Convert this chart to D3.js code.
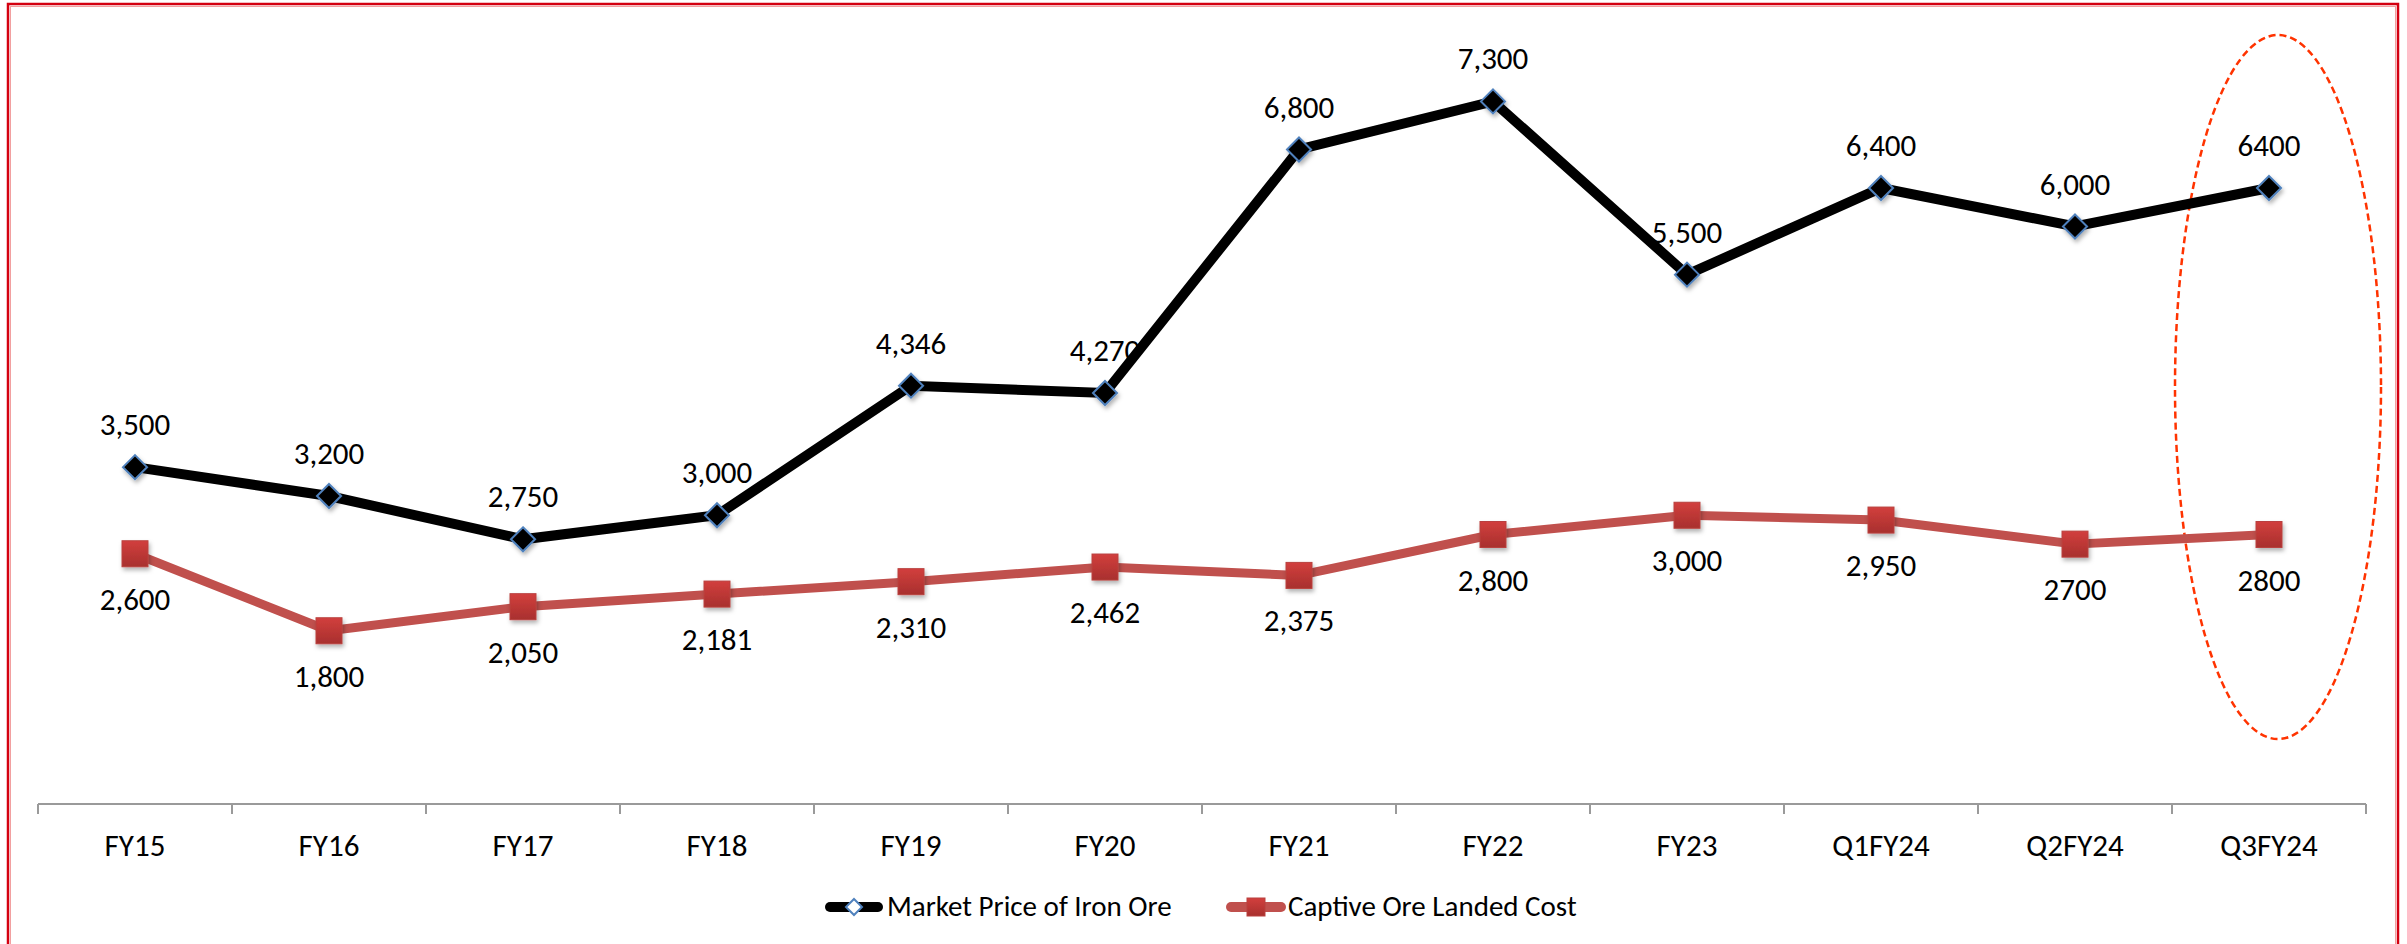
<!DOCTYPE html>
<html>
<head>
<meta charset="utf-8">
<script src="https://cdn.jsdelivr.net/npm/d3@7"></script>
<style>
  html, body { margin: 0; padding: 0; background: #ffffff; }
  svg { display: block; }
  text { font-family: Carlito, Calibri, Lato, sans-serif; fill: #000; }
</style>
</head>
<body>
<svg id="chart" width="2407" height="944"></svg>
<script>
// ---- data ----
const categories = ["FY15","FY16","FY17","FY18","FY19","FY20","FY21","FY22","FY23","Q1FY24","Q2FY24","Q3FY24"];
const marketPrice = [3500, 3200, 2750, 3000, 4346, 4270, 6800, 7300, 5500, 6400, 6000, 6400];
const marketLabels = ["3,500","3,200","2,750","3,000","4,346","4,270","6,800","7,300","5,500","6,400","6,000","6400"];
const captiveCost = [2600, 1800, 2050, 2181, 2310, 2462, 2375, 2800, 3000, 2950, 2700, 2800];
const captiveLabels = ["2,600","1,800","2,050","2,181","2,310","2,462","2,375","2,800","3,000","2,950","2700","2800"];
const seriesNames = ["Market Price of Iron Ore", "Captive Ore Landed Cost"];
const yDomain = [0, 8000];
const highlighted = "Q3FY24";

// ---- layout ----
const svg = d3.select("#chart");
const x = d3.scaleBand().domain(categories).range([38, 2366]).padding(0);
const y = d3.scaleLinear().domain(yDomain).range([804, 34]);
const cx = c => x(c) + x.bandwidth() / 2;

const defs = svg.append("defs");
const shadow = defs.append("filter").attr("id", "shadow")
  .attr("x", "-50%").attr("y", "-50%").attr("width", "200%").attr("height", "200%");
shadow.append("feDropShadow").attr("dx", 1.5).attr("dy", 3).attr("stdDeviation", 2)
  .attr("flood-color", "#000").attr("flood-opacity", 0.3);
const grad = defs.append("linearGradient").attr("id", "sqgrad")
  .attr("x1", 0).attr("y1", 0).attr("x2", 0).attr("y2", 1);
grad.append("stop").attr("offset", "0%").attr("stop-color", "#d23f3d");
grad.append("stop").attr("offset", "100%").attr("stop-color", "#a8302e");

// outer red frame
svg.append("rect").attr("x", 8).attr("y", 4).attr("width", 2390).attr("height", 960)
  .attr("fill", "none").attr("stroke", "#d40010").attr("stroke-width", 2.5);
svg.append("rect").attr("x", 10.5).attr("y", 6.5).attr("width", 2385).attr("height", 960)
  .attr("fill", "none").attr("stroke", "#f2a0a0").attr("stroke-width", 1);

// ---- x axis ----
const axisG = svg.append("g");
axisG.append("line")
  .attr("x1", x.range()[0]).attr("x2", x.range()[1])
  .attr("y1", y(0)).attr("y2", y(0))
  .attr("stroke", "#9a9a9a").attr("stroke-width", 2);
const boundaries = categories.map(c => x(c)).concat([x.range()[1]]);
axisG.selectAll("line.tick").data(boundaries).join("line")
  .attr("class", "tick")
  .attr("x1", d => d).attr("x2", d => d)
  .attr("y1", y(0)).attr("y2", y(0) + 10)
  .attr("stroke", "#9a9a9a").attr("stroke-width", 2);
axisG.selectAll("text.cat").data(categories).join("text")
  .attr("class", "cat")
  .attr("x", d => cx(d)).attr("y", 856)
  .attr("text-anchor", "middle").attr("font-size", 31)
  .text(d => d);

// ---- highlight ellipse ----
svg.append("ellipse")
  .attr("cx", cx(highlighted) + 9).attr("cy", 387)
  .attr("rx", 103).attr("ry", 352)
  .attr("fill", "none").attr("stroke", "#ff3300")
  .attr("stroke-width", 2.5).attr("stroke-dasharray", "7,4");

// ---- lines ----
const line = d3.line().x((d, i) => cx(categories[i])).y(d => y(d));
svg.append("path").datum(captiveCost).attr("d", line)
  .attr("fill", "none").attr("stroke", "#c0504d").attr("stroke-width", 9)
  .attr("stroke-linejoin", "round");
svg.append("path").datum(marketPrice).attr("d", line)
  .attr("fill", "none").attr("stroke", "#000").attr("stroke-width", 10)
  .attr("stroke-linejoin", "miter");

// ---- markers ----
const dia = 12;
svg.selectAll("path.dia").data(marketPrice).join("path")
  .attr("class", "dia")
  .attr("d", (d, i) => {
    const px = cx(categories[i]), py = y(d);
    return `M${px},${py - dia}L${px + dia},${py}L${px},${py + dia}L${px - dia},${py}Z`;
  })
  .attr("fill", "#000").attr("stroke", "#4f81bd").attr("stroke-width", 2)
  .attr("filter", "url(#shadow)");

const sq = 26;
svg.selectAll("rect.sq").data(captiveCost).join("rect")
  .attr("class", "sq")
  .attr("x", (d, i) => cx(categories[i]) - sq / 2)
  .attr("y", d => y(d) - sq / 2)
  .attr("width", sq).attr("height", sq)
  .attr("fill", "url(#sqgrad)").attr("stroke", "#b9413f").attr("stroke-width", 1)
  .attr("filter", "url(#shadow)");

// ---- data labels ----
svg.selectAll("text.ml").data(marketPrice).join("text")
  .attr("class", "ml")
  .attr("x", (d, i) => cx(categories[i])).attr("y", d => y(d) - 32)
  .attr("text-anchor", "middle").attr("font-size", 31)
  .text((d, i) => marketLabels[i]);
svg.selectAll("text.cl").data(captiveCost).join("text")
  .attr("class", "cl")
  .attr("x", (d, i) => cx(categories[i])).attr("y", d => y(d) + 56)
  .attr("text-anchor", "middle").attr("font-size", 31)
  .text((d, i) => captiveLabels[i]);

// ---- legend ----
const lg = svg.append("g");
const ly = 907;
// series 1
lg.append("line").attr("x1", 830).attr("x2", 878).attr("y1", ly).attr("y2", ly)
  .attr("stroke", "#000").attr("stroke-width", 10).attr("stroke-linecap", "round");
lg.append("path").attr("d", `M854,${ly - 8}L862,${ly}L854,${ly + 8}L846,${ly}Z`)
  .attr("fill", "#fff").attr("stroke", "#4f81bd").attr("stroke-width", 2);
lg.append("text").attr("x", 887).attr("y", 916).attr("font-size", 29).text(seriesNames[0]);
// series 2
lg.append("line").attr("x1", 1231).attr("x2", 1281).attr("y1", ly).attr("y2", ly)
  .attr("stroke", "#c0504d").attr("stroke-width", 10).attr("stroke-linecap", "round");
lg.append("rect").attr("x", 1247).attr("y", ly - 9).attr("width", 18).attr("height", 18)
  .attr("fill", "url(#sqgrad)").attr("stroke", "#b9413f").attr("stroke-width", 1);
lg.append("text").attr("x", 1288).attr("y", 916).attr("font-size", 29).text(seriesNames[1]);
</script>
</body>
</html>
